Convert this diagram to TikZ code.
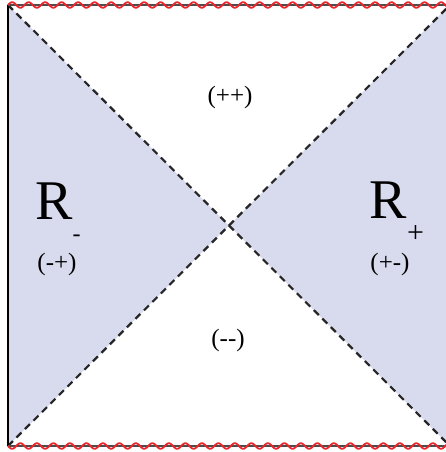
\documentclass[tikz,border=0pt]{standalone}
\usepackage{fontspec}
\setmainfont{Liberation Serif}
\usepackage{xcolor}
\usetikzlibrary{calc}

\definecolor{region}{HTML}{D8DBEE}
\definecolor{singred}{HTML}{E8262B}

\begin{document}
\begin{tikzpicture}[
   x=1pt, y=-1pt,
   horizon/.style={dash pattern=on 7pt off 5pt,line width=2.2pt,black!85},
   sing/.style={singred,line width=1.8pt},
   edge/.style={black!70,line width=2.2pt},
   big/.style={font=\fontsize{56}{56}\selectfont,inner sep=0pt},
   lbl/.style={font=\fontsize{25}{25}\selectfont,inner sep=0pt}]
  \useasboundingbox (0,0) rectangle (445,452);
  \coordinate (tl) at (8,5);
  \coordinate (bl) at (8,446);
  \coordinate (tr) at (450,5);
  \coordinate (br) at (450,446);
  \coordinate (c) at ($(tl)!0.5!(br)$);
  % shaded wedges
  \fill[region] (tl) -- (c) -- (bl) -- cycle;
  \fill[region] (tr) -- (c) -- (br) -- cycle;
  % horizons
  \draw[horizon] (tl) -- (br);
  \draw[horizon] (bl) -- (tr);
  % boundary and singularities
  \draw[black,line width=2.5pt] (tl) -- (bl);
  \draw[edge] (tl) -- (tr);
  \draw[edge] (bl) -- (br);
  \draw[sing] plot[domain=8:450,samples=400,smooth] (\x,{5-2.8*sin(21.82*(\x-8))});
  \draw[sing] plot[domain=8:450,samples=400,smooth] (\x,{446+2.8*sin(21.82*(\x-8))});
  % labels
  \node[big] (rm) at (58,212) {R\raisebox{-22pt}{\fontsize{24}{24}\selectfont -}};
  \node[lbl] (rmsign) at (57,264) {(-+)};
  \node[big] (rp) at (397,212) {R\raisebox{-24pt}{\fontsize{30}{30}\selectfont +}};
  \node[lbl] (rpsign) at (390,264) {(+-)};
  \node[lbl] (top) at (230,97) {(++)};
  \node[lbl] (bot) at (228,340) {({-}{-})};
\end{tikzpicture}
\end{document}
